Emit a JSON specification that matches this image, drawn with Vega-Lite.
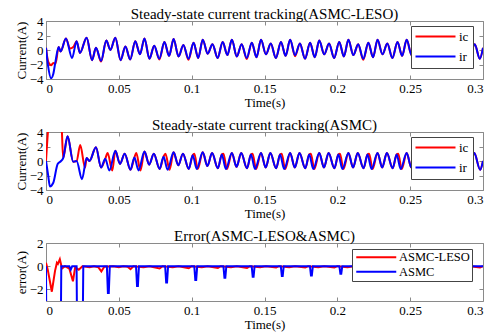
{
  "$schema": "https://vega.github.io/schema/vega-lite/v6.json",
  "padding": {"left": 14, "top": 6, "right": 0, "bottom": 0},
  "spacing": 7,
  "resolve": {"scale": {"color": "independent", "x": "independent", "y": "independent"}, "legend": {"color": "independent"}},
  "datasets": {
    "top": [
      {"t":0,"a":0.3,"b":0.3},{"t":0.0015,"a":-1.6,"b":-2.3},{"t":0.0035,"a":-2.1,"b":-3.9},{"t":0.005,"a":-1.8,"b":-3.3},
      {"t":0.0065,"a":-1.9,"b":-1.6},{"t":0.0087,"a":0.4,"b":0.4},{"t":0.01,"a":-0.2,"b":-0.2},{"t":0.0137,"a":1.6,"b":1.6},
      {"t":0.0165,"a":0.2},{"t":0.0179,"b":-1.1},{"t":0.0187,"a":0.4},{"t":0.021,"a":1.2,"b":1.2},
      {"t":0.0233,"a":-0.4,"b":-0.4},{"t":0.0279,"a":1.7,"b":1.7},{"t":0.0316,"a":-1.4,"b":-1.4},{"t":0.0343,"a":0.3,"b":0.3},
      {"t":0.0378,"a":-1.6,"b":-1.5},{"t":0.0414,"a":1.3,"b":1.3},{"t":0.0442,"a":0,"b":0},{"t":0.0476,"a":1.7,"b":1.7},
      {"t":0.0512,"a":-1.4,"b":-1.4},{"t":0.0545,"a":0.5,"b":0.5},{"t":0.0578,"a":-1.3,"b":-1.3},
      {"t":0.0613,"a":1.2,"b":1.2},{"t":0.0645,"a":-0.6,"b":-0.6},{"t":0.0676,"a":1.6,"b":1.6},{"t":0.071,"a":-1.2,"b":-1.2},{"t":0.0743,"a":0.6,"b":0.6},{"t":0.0778,"a":-1.3,"b":-1.2},
      {"t":0.0813,"a":1.1,"b":1.1},{"t":0.0845,"a":-0.8,"b":-0.8},{"t":0.0876,"a":1.5,"b":1.5},{"t":0.091,"a":-0.9,"b":-0.9},{"t":0.0943,"a":0.7,"b":0.7},{"t":0.0978,"a":-1.35,"b":-1.2},
      {"t":0.1013,"a":1.0,"b":1.0},{"t":0.1045,"a":-1.1,"b":-1.1},{"t":0.1076,"a":1.4,"b":1.4},{"t":0.111,"a":-0.5,"b":-0.5},{"t":0.1143,"a":0.8,"b":0.8},{"t":0.1178,"a":-1.1,"b":-1.1},
      {"t":0.1213,"a":1.1,"b":1.1},{"t":0.1245,"a":-0.7,"b":-0.7},{"t":0.1276,"a":1.4,"b":1.4},{"t":0.131,"a":-0.9,"b":-0.9},{"t":0.1343,"a":0.8,"b":0.8},{"t":0.1378,"a":-1.25,"b":-1.1},
      {"t":0.1413,"a":1.0,"b":1.0},{"t":0.1445,"a":-1.0,"b":-1.0},{"t":0.1476,"a":1.4,"b":1.4},{"t":0.151,"a":-0.6,"b":-0.6},{"t":0.1543,"a":0.9,"b":0.9},{"t":0.1578,"a":-1.1,"b":-1.1},
      {"t":0.1613,"a":1.1,"b":1.1},{"t":0.1645,"a":-0.8,"b":-0.8},{"t":0.1676,"a":1.4,"b":1.4},{"t":0.171,"a":-0.85,"b":-0.7},{"t":0.1743,"a":0.9,"b":0.9},{"t":0.1778,"a":-1.2,"b":-1.2},
      {"t":0.1813,"a":1.0,"b":1.0},{"t":0.1845,"a":-1.0,"b":-1.0},{"t":0.1876,"a":1.3,"b":1.3},{"t":0.191,"a":-0.6,"b":-0.6},{"t":0.1943,"a":0.9,"b":0.9},{"t":0.1978,"a":-1.1,"b":-1.1},
      {"t":0.2013,"a":1.1,"b":1.1},{"t":0.2045,"a":-0.9,"b":-0.9},{"t":0.2076,"a":1.4,"b":1.4},{"t":0.211,"a":-0.7,"b":-0.7},{"t":0.2143,"a":0.8,"b":0.8},{"t":0.2178,"a":-1.35,"b":-1.2},
      {"t":0.2213,"a":1.0,"b":1.0},{"t":0.2245,"a":-1.0,"b":-1.0},{"t":0.2276,"a":1.4,"b":1.4},{"t":0.231,"a":-0.6,"b":-0.6},{"t":0.2343,"a":0.9,"b":0.9},{"t":0.2378,"a":-1.1,"b":-1.1},
      {"t":0.2413,"a":1.1,"b":1.1},{"t":0.2445,"a":-0.8,"b":-0.8},{"t":0.2476,"a":1.4,"b":1.4},{"t":0.251,"a":-0.7,"b":-0.7},{"t":0.2543,"a":0.9,"b":0.9},{"t":0.2578,"a":-1.2,"b":-1.2},
      {"t":0.2613,"a":1.0,"b":1.0},{"t":0.2645,"a":-1.0,"b":-1.0},{"t":0.2676,"a":1.3,"b":1.3},{"t":0.271,"a":-0.6,"b":-0.6},{"t":0.2743,"a":0.9,"b":0.9},{"t":0.2778,"a":-1.1,"b":-1.1},
      {"t":0.2813,"a":1.1,"b":1.1},{"t":0.2845,"a":-0.9,"b":-0.9},{"t":0.2876,"a":1.4,"b":1.4},{"t":0.291,"a":-0.7,"b":-0.7},{"t":0.2943,"a":0.8,"b":0.8},{"t":0.2978,"a":-1.2,"b":-1.2},
      {"t":0.3,"a":0.3,"b":0.3}
    ],
    "mid": [
      {"t":0,"a":0,"b":0},{"t":0.0015,"a":4.5,"b":-2.0},{"t":0.0027,"b":-3.5},{"t":0.004,"a":9},{"t":0.005,"b":-3.0},
      {"t":0.007,"a":10},{"t":0.008,"b":-0.4},{"t":0.0095,"a":7},{"t":0.0103,"b":0},{"t":0.0108,"a":4.5},
      {"t":0.0118,"a":0.4,"b":0.4},{"t":0.0148,"a":3.4,"b":3.4},{"t":0.0187,"a":-0.1,"b":-0.1},{"t":0.021,"a":0,"b":0},
      {"t":0.0235,"a":2.2},{"t":0.0247,"b":-2.5},{"t":0.0268,"a":-0.9},{"t":0.0279,"a":0.4,"b":0.4},{"t":0.0298,"a":0,"b":0},
      {"t":0.0343,"a":1.9,"b":1.9},{"t":0.0378,"a":-0.9,"b":-0.9},{"t":0.0407,"a":0.3,"b":0.3},{"t":0.0423,"a":1.1},
      {"t":0.0435,"b":-1.3},{"t":0.0455,"a":-1.3},{"t":0.0476,"a":1.4,"b":1.4},{"t":0.0508,"a":-0.4,"b":-0.4},
      {"t":0.054,"a":1.0,"b":1.0},{"t":0.058,"a":-1.2,"b":-1.2},
      {"t":0.0607,"a":0.5,"b":0.5},{"t":0.062,"a":1.1},{"t":0.0635,"b":-1.3},{"t":0.0648,"a":-1.3},{"t":0.0676,"a":1.3,"b":1.3},{"t":0.0708,"a":-0.5,"b":-0.5},{"t":0.074,"a":1.0,"b":1.0},{"t":0.078,"a":-1.1,"b":-1.1},
      {"t":0.0807,"a":0.6,"b":0.6},{"t":0.082,"a":1.0},{"t":0.0835,"b":-1.2},{"t":0.0848,"a":-1.2},{"t":0.0876,"a":1.2,"b":1.2},{"t":0.0908,"a":-0.6,"b":-0.6},{"t":0.094,"a":1.0,"b":1.0},{"t":0.098,"a":-1.1,"b":-1.1},
      {"t":0.1007,"a":0.8,"b":0.8},{"t":0.1018,"a":1.0},{"t":0.1035,"b":-1.1},{"t":0.1042,"a":-1.1},{"t":0.1076,"a":1.2,"b":1.2},{"t":0.1108,"a":-0.7,"b":-0.7},{"t":0.114,"a":1.1,"b":1.1},{"t":0.118,"a":-1.0,"b":-1.0},
      {"t":0.1207,"a":0.9,"b":0.9},{"t":0.1218,"a":1.0},{"t":0.1235,"b":-1.1},{"t":0.1242,"a":-1.1},{"t":0.1276,"a":1.1,"b":1.1},{"t":0.1308,"a":-0.8,"b":-0.8},{"t":0.134,"a":1.1,"b":1.1},{"t":0.138,"a":-1.0,"b":-1.0},
      {"t":0.1407,"a":0.9,"b":0.9},{"t":0.1418,"a":1.0},{"t":0.1435,"b":-1.1},{"t":0.1442,"a":-1.1},{"t":0.1476,"a":1.1,"b":1.1},{"t":0.1508,"a":-0.9,"b":-0.9},{"t":0.154,"a":1.1,"b":1.1},{"t":0.158,"a":-1.0,"b":-1.0},
      {"t":0.1607,"a":0.9,"b":0.9},{"t":0.1618,"a":1.0},{"t":0.1635,"b":-1.1},{"t":0.1642,"a":-1.1},{"t":0.1676,"a":1.1,"b":1.1},{"t":0.1708,"a":-0.9,"b":-0.9},{"t":0.174,"a":1.1,"b":1.1},{"t":0.178,"a":-1.0,"b":-1.0},
      {"t":0.1807,"a":0.9,"b":0.9},{"t":0.1818,"a":1.0},{"t":0.1835,"b":-1.1},{"t":0.1842,"a":-1.1},{"t":0.1876,"a":1.1,"b":1.1},{"t":0.1908,"a":-0.9,"b":-0.9},{"t":0.194,"a":1.1,"b":1.1},{"t":0.198,"a":-1.0,"b":-1.0},
      {"t":0.2007,"a":0.9,"b":0.9},{"t":0.2018,"a":1.0},{"t":0.2035,"b":-1.1},{"t":0.2042,"a":-1.1},{"t":0.2076,"a":1.1,"b":1.1},{"t":0.2108,"a":-0.9,"b":-0.9},{"t":0.214,"a":1.1,"b":1.1},{"t":0.218,"a":-1.0,"b":-1.0},
      {"t":0.2207,"a":0.9,"b":0.9},{"t":0.2218,"a":1.0},{"t":0.2235,"b":-1.1},{"t":0.2242,"a":-1.1},{"t":0.2276,"a":1.1,"b":1.1},{"t":0.2308,"a":-0.9,"b":-0.9},{"t":0.234,"a":1.1,"b":1.1},{"t":0.238,"a":-1.0,"b":-1.0},
      {"t":0.2407,"a":0.9,"b":0.9},{"t":0.2418,"a":1.0},{"t":0.2435,"b":-1.1},{"t":0.2442,"a":-1.1},{"t":0.2476,"a":1.1,"b":1.1},{"t":0.2508,"a":-0.9,"b":-0.9},{"t":0.254,"a":1.1,"b":1.1},{"t":0.258,"a":-1.0,"b":-1.0},
      {"t":0.2607,"a":0.9,"b":0.9},{"t":0.2635,"a":-1.1,"b":-1.1},{"t":0.2676,"a":1.1,"b":1.1},{"t":0.2708,"a":-0.9,"b":-0.9},{"t":0.274,"a":1.1,"b":1.1},{"t":0.278,"a":-1.0,"b":-1.0},
      {"t":0.2807,"a":0.9,"b":0.9},{"t":0.2835,"a":-1.1,"b":-1.1},{"t":0.2876,"a":1.1,"b":1.1},{"t":0.2908,"a":-0.9,"b":-0.9},{"t":0.294,"a":1.1,"b":1.1},{"t":0.298,"a":-1.2,"b":-1.2},
      {"t":0.3,"a":0,"b":0}
    ],
    "bot": [
      {"t":0,"a":0.3,"b":0},{"t":0.0003,"b":-8},{"t":0.0012,"a":-0.3},{"t":0.004,"a":-2.2},{"t":0.0062,"a":-0.4},
      {"t":0.0075,"a":0.3},{"t":0.0082,"a":0.2},{"t":0.0095,"a":0.6},{"t":0.01,"b":-8},{"t":0.0105,"b":0},
      {"t":0.011,"a":-0.2},{"t":0.013,"a":0},{"t":0.016,"a":-0.2,"b":0},{"t":0.017,"b":-0.3},{"t":0.018,"b":0},
      {"t":0.0185,"a":-1.3},{"t":0.02,"a":-0.1},{"t":0.021,"b":0},{"t":0.0215,"b":-8},{"t":0.0225,"a":-0.3},
      {"t":0.025,"a":0,"b":-8},{"t":0.0256,"b":0},{"t":0.03,"a":-0.08},{"t":0.033,"a":0},{"t":0.036,"a":-0.1},
      {"t":0.038,"a":-0.45},{"t":0.04,"a":-0.05},
      {"t":0.0418,"b":0},{"t":0.0425,"b":-2.3},{"t":0.0431,"b":-2.3},{"t":0.0438,"b":0},
      {"t":0.046,"a":0},{"t":0.05,"a":-0.08},{"t":0.053,"a":0},{"t":0.056,"a":-0.05},{"t":0.058,"a":-0.25},{"t":0.06,"a":0},
      {"t":0.0618,"b":0},{"t":0.0625,"b":-1.7},{"t":0.0631,"b":-1.7},{"t":0.0638,"b":0},
      {"t":0.067,"a":-0.08},{"t":0.071,"a":0},{"t":0.078,"a":-0.2},{"t":0.08,"a":0},
      {"t":0.0818,"b":0},{"t":0.0825,"b":-1.4},{"t":0.0831,"b":-1.4},{"t":0.0838,"b":0},
      {"t":0.087,"a":-0.08},{"t":0.091,"a":0},{"t":0.098,"a":-0.18},{"t":0.1,"a":0},
      {"t":0.1018,"b":0},{"t":0.1025,"b":-1.2},{"t":0.1031,"b":-1.2},{"t":0.1038,"b":0},
      {"t":0.107,"a":-0.08},{"t":0.111,"a":0},{"t":0.118,"a":-0.15},{"t":0.12,"a":0},
      {"t":0.1218,"b":0},{"t":0.1225,"b":-1.0},{"t":0.1231,"b":-1.0},{"t":0.1238,"b":0},
      {"t":0.127,"a":-0.08},{"t":0.131,"a":0},{"t":0.138,"a":-0.15},{"t":0.14,"a":0},
      {"t":0.1412,"b":0},{"t":0.1419,"b":-0.9},{"t":0.1425,"b":-0.9},{"t":0.1432,"b":0},
      {"t":0.147,"a":-0.08},{"t":0.151,"a":0},{"t":0.158,"a":-0.12},{"t":0.16,"a":0},
      {"t":0.1612,"b":0},{"t":0.1619,"b":-0.85},{"t":0.1625,"b":-0.85},{"t":0.1632,"b":0},
      {"t":0.167,"a":-0.08},{"t":0.171,"a":0},{"t":0.178,"a":-0.12},{"t":0.18,"a":0},
      {"t":0.1812,"b":0},{"t":0.1819,"b":-0.8},{"t":0.1825,"b":-0.8},{"t":0.1832,"b":0},
      {"t":0.187,"a":-0.08},{"t":0.191,"a":0},{"t":0.198,"a":-0.12},{"t":0.2,"a":0},
      {"t":0.2014,"b":0},{"t":0.2021,"b":-0.65},{"t":0.2027,"b":-0.65},{"t":0.2034,"b":0},
      {"t":0.207,"a":-0.08},{"t":0.211,"a":0},{"t":0.218,"a":-0.1},{"t":0.22,"a":0},
      {"t":0.2214,"b":0},{"t":0.2221,"b":-0.55},{"t":0.2227,"b":-0.55},{"t":0.2234,"b":0},
      {"t":0.227,"a":-0.08},{"t":0.231,"a":0},{"t":0.238,"a":-0.1},{"t":0.24,"a":0},
      {"t":0.2414,"b":0},{"t":0.2421,"b":-0.5},{"t":0.2427,"b":-0.5},{"t":0.2434,"b":0},
      {"t":0.247,"a":-0.08},{"t":0.251,"a":0},{"t":0.258,"a":-0.1},{"t":0.26,"a":0},
      {"t":0.2614,"b":0},{"t":0.2621,"b":-0.45},{"t":0.2627,"b":-0.45},{"t":0.2634,"b":0},
      {"t":0.267,"a":-0.08},{"t":0.271,"a":0},{"t":0.278,"a":-0.1},{"t":0.28,"a":0},
      {"t":0.2814,"b":0},{"t":0.2821,"b":-0.4},{"t":0.2827,"b":-0.4},{"t":0.2834,"b":0},
      {"t":0.287,"a":-0.08},{"t":0.291,"a":0},{"t":0.298,"a":-0.1},{"t":0.3,"a":0,"b":0}
    ]
  },
  "vconcat": [
    {
      "width": 437, "height": 58,
      "title": "Steady-state current tracking(ASMC-LESO)",
      "data": {"name": "top"},
      "resolve": {"axis": {"x": "independent", "y": "independent"}},
      "layer": [
        {
          "transform": [{"filter": "isValid(datum.a)"}],
          "mark": {"type": "line", "clip": true, "strokeWidth": 2, "interpolate": "monotone"},
          "encoding": {
            "x": {"field": "t", "type": "quantitative", "scale": {"domain": [0, 0.3], "nice": false}, "axis": {"values": [0,0.05,0.1,0.15,0.2,0.25,0.3], "format": ".2~f", "title": "Time(s)"}},
            "y": {"field": "a", "type": "quantitative", "scale": {"domain": [-4, 4], "nice": false}, "axis": {"values": [-4,-2,0,2,4], "title": "Current(A)"}},
            "color": {"datum": "ic", "scale": {"domain": ["ic", "ir"], "range": ["#ff0000", "#0000ff"]},
              "legend": {"orient": "none", "legendX": 365, "legendY": 5, "title": null, "labelFontSize": 13, "rowPadding": 6, "padding": 4, "symbolType": "M-6,0H34", "symbolSize": 4, "symbolStrokeWidth": 2, "labelOffset": 31, "fillColor": "#ffffff", "strokeColor": "#444444"}}
          }
        },
        {
          "transform": [{"filter": "isValid(datum.b)"}],
          "mark": {"type": "line", "clip": true, "strokeWidth": 2, "interpolate": "monotone"},
          "encoding": {
            "x": {"field": "t", "type": "quantitative", "axis": {"orient": "top", "labels": false, "title": null, "labelPadding": 0, "minExtent": 0, "values": [0,0.05,0.1,0.15,0.2,0.25,0.3]}},
            "y": {"field": "b", "type": "quantitative", "axis": {"orient": "right", "labels": false, "title": null, "labelPadding": 0, "minExtent": 0, "values": [-4,-2,0,2,4]}},
            "color": {"datum": "ir"}
          }
        }
      ]
    },
    {
      "width": 437, "height": 58,
      "title": "Steady-state current tracking(ASMC)",
      "data": {"name": "mid"},
      "resolve": {"axis": {"x": "independent", "y": "independent"}},
      "layer": [
        {
          "transform": [{"filter": "isValid(datum.a)"}],
          "mark": {"type": "line", "clip": true, "strokeWidth": 2, "interpolate": "monotone"},
          "encoding": {
            "x": {"field": "t", "type": "quantitative", "scale": {"domain": [0, 0.3], "nice": false}, "axis": {"values": [0,0.05,0.1,0.15,0.2,0.25,0.3], "format": ".2~f", "title": "Time(s)"}},
            "y": {"field": "a", "type": "quantitative", "scale": {"domain": [-4, 4], "nice": false}, "axis": {"values": [-4,-2,0,2,4], "title": "Current(A)"}},
            "color": {"datum": "ic", "scale": {"domain": ["ic", "ir"], "range": ["#ff0000", "#0000ff"]},
              "legend": {"orient": "none", "legendX": 365, "legendY": 5, "title": null, "labelFontSize": 13, "rowPadding": 6, "padding": 4, "symbolType": "M-6,0H34", "symbolSize": 4, "symbolStrokeWidth": 2, "labelOffset": 31, "fillColor": "#ffffff", "strokeColor": "#444444"}}
          }
        },
        {
          "transform": [{"filter": "isValid(datum.b)"}],
          "mark": {"type": "line", "clip": true, "strokeWidth": 2, "interpolate": "monotone"},
          "encoding": {
            "x": {"field": "t", "type": "quantitative", "axis": {"orient": "top", "labels": false, "title": null, "labelPadding": 0, "minExtent": 0, "values": [0,0.05,0.1,0.15,0.2,0.25,0.3]}},
            "y": {"field": "b", "type": "quantitative", "axis": {"orient": "right", "labels": false, "title": null, "labelPadding": 0, "minExtent": 0, "values": [-4,-2,0,2,4]}},
            "color": {"datum": "ir"}
          }
        }
      ]
    },
    {
      "width": 437, "height": 58,
      "title": "Error(ASMC-LESO&ASMC)",
      "data": {"name": "bot"},
      "resolve": {"axis": {"x": "independent", "y": "independent"}},
      "layer": [
        {
          "transform": [{"filter": "isValid(datum.a)"}],
          "mark": {"type": "line", "clip": true, "strokeWidth": 2},
          "encoding": {
            "x": {"field": "t", "type": "quantitative", "scale": {"domain": [0, 0.3], "nice": false}, "axis": {"values": [0,0.05,0.1,0.15,0.2,0.25,0.3], "format": ".2~f", "title": "Time(s)"}},
            "y": {"field": "a", "type": "quantitative", "scale": {"domain": [-3, 2], "nice": false}, "axis": {"values": [-2,0,2], "title": "error(A)"}},
            "color": {"datum": "ASMC-LESO", "scale": {"domain": ["ASMC-LESO", "ASMC"], "range": ["#ff0000", "#0000ff"]},
              "legend": {"orient": "none", "legendX": 306, "legendY": 6, "title": null, "labelFontSize": 12.5, "rowPadding": 1.5, "padding": 2, "symbolType": "M-4,0H36", "symbolSize": 4, "symbolStrokeWidth": 2, "labelOffset": 32.5, "labelLimit": 90, "fillColor": "#ffffff", "strokeColor": "#444444"}}
          }
        },
        {
          "transform": [{"filter": "isValid(datum.b)"}],
          "mark": {"type": "line", "clip": true, "strokeWidth": 2},
          "encoding": {
            "x": {"field": "t", "type": "quantitative", "axis": {"orient": "top", "labels": false, "title": null, "labelPadding": 0, "minExtent": 0, "values": [0,0.05,0.1,0.15,0.2,0.25,0.3]}},
            "y": {"field": "b", "type": "quantitative", "axis": {"orient": "right", "labels": false, "title": null, "labelPadding": 0, "minExtent": 0, "values": [-2,0,2]}},
            "color": {"datum": "ASMC"}
          }
        }
      ]
    }
  ],
  "config": {
    "font": "Liberation Serif",
    "view": {"stroke": "#8a8a8a", "strokeWidth": 1},
    "axis": {"domain": false, "grid": false, "tickSize": -4, "tickColor": "#8a8a8a", "labelPadding": 7, "labelFontSize": 13, "labelColor": "#000000", "labelFont": "Liberation Serif", "titleFont": "Liberation Serif", "titleFontSize": 13, "titleFontWeight": "normal", "titleColor": "#000000", "titlePadding": 1},
    "title": {"font": "Liberation Serif", "fontSize": 15, "fontWeight": "normal", "frame": "group", "offset": -7, "color": "#000000"},
    "legend": {"labelFont": "Liberation Serif", "labelColor": "#000000"}
  }
}
